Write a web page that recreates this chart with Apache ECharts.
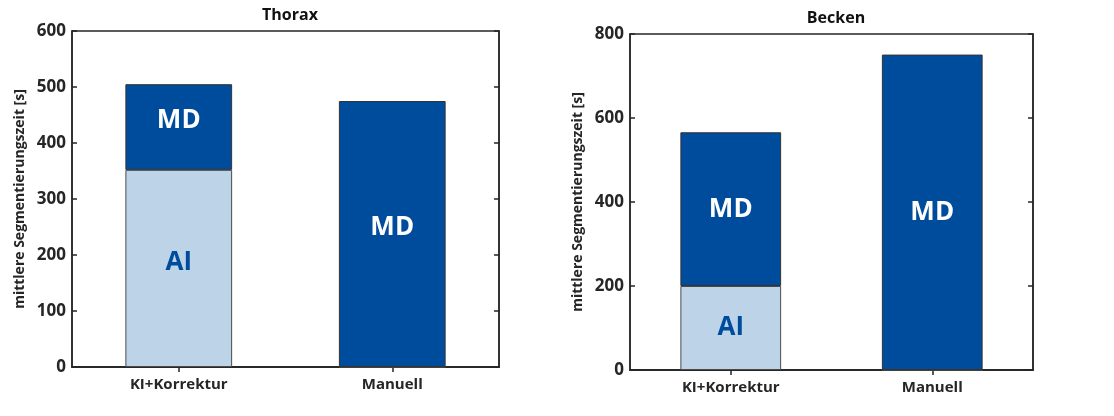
<!DOCTYPE html>
<html>
<head>
<meta charset="utf-8">
<script src="https://cdn.jsdelivr.net/npm/echarts@6/dist/echarts.min.js"></script>
<style>
html,body{margin:0;padding:0;background:#fff;}
#main{width:1114px;height:416px;}
</style>
</head>
<body>
<div id="main"></div>
<script>
const categories = ['KI+Korrektur', 'Manuell'];
const titles = ['Thorax', 'Becken'];
const yAxisName = 'mittlere Segmentierungszeit [s]';
const thoraxAI = [352, 0];
const thoraxMD = [153, 475];
const beckenAI = [200, 0];
const beckenMD = [366, 751];
const thoraxTicks = [0, 100, 200, 300, 400, 500, 600];
const beckenTicks = [0, 200, 400, 600, 800];

const FONT = 'Open Sans';
const DARK = '#004C9C';
const LIGHT = '#BDD3E7';
const AXC = '#262626';

const grids = [
  {left: 72, top: 31, width: 427, height: 336, show: true, borderColor: AXC, borderWidth: 1.5, backgroundColor: 'transparent'},
  {left: 630, top: 34, width: 403, height: 336, show: true, borderColor: AXC, borderWidth: 1.5, backgroundColor: 'transparent'}
];

const xAxes = [], yAxes = [], series = [];
const sets = [
  {ai: thoraxAI, md: thoraxMD, ticks: thoraxTicks, off: -6},
  {ai: beckenAI, md: beckenMD, ticks: beckenTicks, off: 0}
];
sets.forEach((s, i) => {
  const max = s.ticks[s.ticks.length - 1];
  const interval = s.ticks[1] - s.ticks[0];
  xAxes.push({
    type: 'category', gridIndex: i, data: categories, position: 'bottom',
    axisLine: {lineStyle: {color: AXC, width: 1.5}},
    axisTick: {show: false},
    axisLabel: {color: AXC, fontFamily: FONT, fontWeight: 'bold', fontSize: 15, margin: 10}
  });
  xAxes.push({
    type: 'category', gridIndex: i, data: categories, position: 'top',
    axisLine: {show: true, lineStyle: {color: AXC, width: 1.5}},
    axisTick: {show: true, inside: true, alignWithLabel: true, length: 5, lineStyle: {color: AXC, width: 1.5}},
    axisLabel: {show: false}
  });
  yAxes.push({
    type: 'value', gridIndex: i, min: 0, max: max, interval: interval, position: 'left',
    name: yAxisName, nameLocation: 'middle', nameGap: 45,
    nameTextStyle: {color: AXC, fontFamily: FONT, fontWeight: 'bold', fontSize: 14},
    axisLine: {show: true, lineStyle: {color: AXC, width: 1.5}},
    axisTick: {show: true, inside: true, length: 5, lineStyle: {color: AXC, width: 1.5}},
    axisLabel: {color: AXC, fontFamily: FONT, fontWeight: 'bold', fontSize: 17, margin: 6},
    splitLine: {show: false}
  });
  yAxes.push({
    type: 'value', gridIndex: i, min: 0, max: max, interval: interval, position: 'right',
    axisLine: {show: true, lineStyle: {color: AXC, width: 1.5}},
    axisTick: {show: true, inside: true, length: 5, lineStyle: {color: AXC, width: 1.5}},
    axisLabel: {show: false},
    splitLine: {show: false}
  });
  const lbl = (color) => ({
    show: true, position: 'inside', color: color, fontFamily: FONT, fontWeight: 'bold', fontSize: 26,
    offset: [0, s.off],
    formatter: p => (p.value ? p.seriesName : '')
  });
  series.push({
    name: 'AI', type: 'bar', stack: 's' + i, xAxisIndex: 2 * i, yAxisIndex: 2 * i,
    data: s.ai, barWidth: '50%',
    itemStyle: {color: LIGHT, borderColor: '#4a4a4a', borderWidth: 1},
    label: lbl(DARK)
  });
  series.push({
    name: 'MD', type: 'bar', stack: 's' + i, xAxisIndex: 2 * i, yAxisIndex: 2 * i,
    data: s.md, barWidth: '50%',
    itemStyle: {color: DARK, borderColor: '#333', borderWidth: 1},
    label: lbl('#ffffff')
  });
});

const chart = echarts.init(document.getElementById('main'), null, {renderer: 'canvas'});
chart.setOption({
  animation: false,
  backgroundColor: '#fff',
  title: [
    {text: titles[0], left: 285, top: 2, textAlign: 'center', textStyle: {fontFamily: FONT, fontWeight: 'bold', fontSize: 16, color: '#111'}},
    {text: titles[1], left: 831, top: 5, textAlign: 'center', textStyle: {fontFamily: FONT, fontWeight: 'bold', fontSize: 16, color: '#111'}}
  ],
  grid: grids,
  xAxis: xAxes,
  yAxis: yAxes,
  series: series
});
</script>
</body>
</html>
